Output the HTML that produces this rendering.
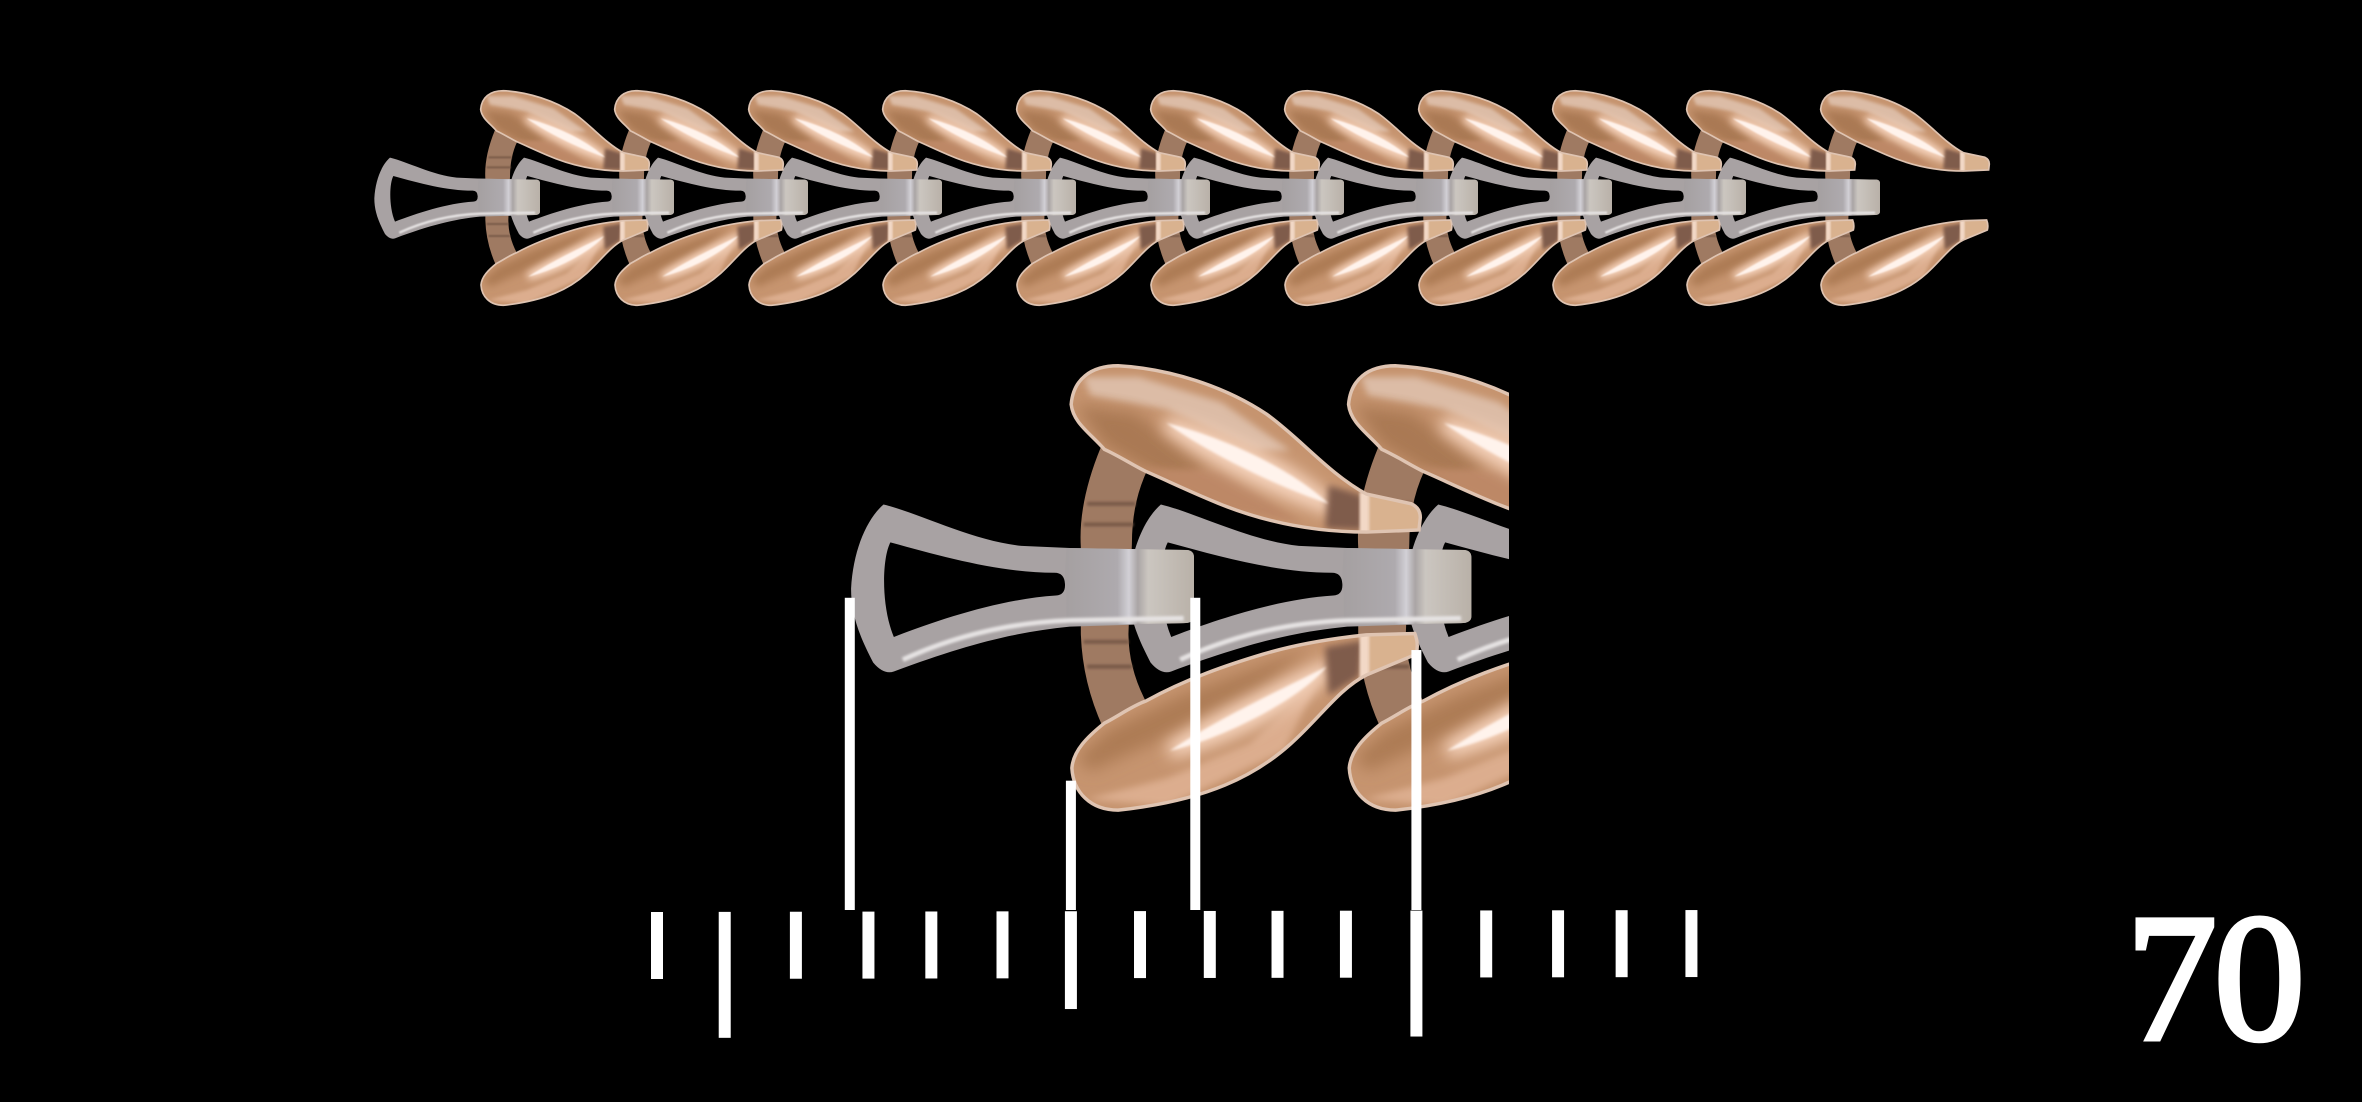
<!DOCTYPE html>
<html>
<head>
<meta charset="utf-8">
<title>Bracelet links with measurement ruler</title>
<style>
html,body{margin:0;padding:0;background:#000;width:2362px;height:1102px;overflow:hidden}
svg{display:block}
</style>
</head>
<body>
<svg id="stage" xmlns="http://www.w3.org/2000/svg" width="2362" height="1102" viewBox="0 0 2362 1102">
<defs>
<linearGradient id="barGrad" x1="415" y1="0" x2="600" y2="0" gradientUnits="userSpaceOnUse">
<stop offset="0" stop-color="#a5a0a1"/><stop offset="0.4" stop-color="#aeaaae"/><stop offset="0.49" stop-color="#d2d0d6"/><stop offset="0.56" stop-color="#aaa5a5"/><stop offset="0.64" stop-color="#cbc6c0"/><stop offset="1" stop-color="#b9b1a8"/>
</linearGradient>
<filter id="soft" x="-40%" y="-40%" width="180%" height="180%"><feGaussianBlur stdDeviation="5"/></filter>
<filter id="mid" x="-40%" y="-40%" width="180%" height="180%"><feGaussianBlur stdDeviation="11"/></filter>
<filter id="fine" x="-20%" y="-20%" width="140%" height="140%"><feGaussianBlur stdDeviation="2"/></filter>
<clipPath id="topLeafClip"><path d="M422,118 C425,82 450,62 490,62 C565,66 645,92 705,132 C755,168 795,218 850,248 L915,262 Q928,268 928,282 L926,300 L850,303 C780,303 700,290 620,255 C580,238 560,228 530,215 C510,205 490,192 470,183 C450,160 425,145 422,118Z"/></clipPath>
<clipPath id="botLeafClip"><path d="M423,645 C425,620 445,600 470,580 C490,570 510,555 530,548 C590,515 650,495 700,480 C750,465 800,457 850,452 L920,450 Q926,465 922,480 L850,510 C810,530 780,575 740,610 C690,655 620,692 490,706 C450,706 425,680 423,645Z"/></clipPath>
<clipPath id="bigClip"><rect x="700" y="340" width="809" height="500"/></clipPath>

<g id="unit">
  <!-- strut -->
  <path d="M465,180 Q432,260 436,325 L436,450 Q438,520 468,586 L530,548 Q505,500 505,450 L510,320 Q510,260 532,214 Z" fill="#9f7a62"/>
  <path d="M445,262 L515,262 M440,292 L512,292 M440,462 L505,462 M445,498 L510,498" stroke="#7a5b4a" stroke-width="6" fill="none" filter="url(#fine)"/>
  <!-- top leaf -->
  <path d="M422,118 C425,82 450,62 490,62 C565,66 645,92 705,132 C755,168 795,218 850,248 L915,262 Q928,268 928,282 L926,300 L850,303 C780,303 700,290 620,255 C580,238 560,228 530,215 C510,205 490,192 470,183 C450,160 425,145 422,118Z" fill="#c6946f"/>
  <g clip-path="url(#topLeafClip)">
    <path d="M440,78 L520,78 L640,115 L740,185 L690,185 L560,125 L450,105Z" fill="#dcbca6" filter="url(#soft)"/>
    <path d="M428,118 L515,130 L625,215 L565,232 L470,178Z" fill="#a5744f" opacity="0.85" filter="url(#mid)"/>
    <path d="M520,210 L640,215 L760,290 L640,270Z" fill="#bd8866" filter="url(#soft)"/>
    <path d="M560,145 C640,165 740,210 800,268 C730,245 630,200 560,145Z" fill="#f6d3bc" stroke="#f6d3bc" stroke-width="22" filter="url(#mid)"/>
    <path d="M795,235 L845,250 L845,300 L790,298Z" fill="#7f5b4b" filter="url(#soft)"/>
    <rect x="852" y="245" width="80" height="60" fill="#d9b28f"/>
    <rect x="840" y="245" width="14" height="60" fill="#f2d8c6" filter="url(#fine)"/>
  </g>
  <path d="M422,118 C425,82 450,62 490,62 C565,66 645,92 705,132 C755,168 795,218 850,248 L915,262 Q928,268 928,282 L926,300 L850,303 C780,303 700,290 620,255 C580,238 560,228 530,215 C510,205 490,192 470,183 C450,160 425,145 422,118Z" fill="none" stroke="#dfc4b2" stroke-width="5"/>
  <path d="M560,145 C640,165 740,210 795,262 C730,240 630,195 560,145Z" fill="#fff3ec" filter="url(#fine)"/>
  <!-- bottom leaf -->
  <path d="M423,645 C425,620 445,600 470,580 C490,570 510,555 530,548 C590,515 650,495 700,480 C750,465 800,457 850,452 L920,450 Q926,465 922,480 L850,510 C810,530 780,575 740,610 C690,655 620,692 490,706 C450,706 425,680 423,645Z" fill="#c6946f"/>
  <g clip-path="url(#botLeafClip)">
    <path d="M430,630 L475,590 L580,540 L770,470 L700,530 L560,600 L450,650Z" fill="#ad7c55" filter="url(#mid)"/>
    <path d="M445,690 L560,660 L680,610 L780,520 L730,620 L560,700Z" fill="#dcad8e" filter="url(#soft)"/>
    <path d="M565,620 C640,570 730,530 795,498 C760,545 650,600 565,620Z" fill="#f6d3bc" stroke="#f6d3bc" stroke-width="22" filter="url(#mid)"/>
    <path d="M790,470 L845,460 L840,512 L795,540Z" fill="#7f5b4b" filter="url(#soft)"/>
    <path d="M852,448 L925,448 L925,482 L852,512Z" fill="#d9b28f"/>
    <path d="M840,448 L854,448 L854,512 L840,518Z" fill="#f2d8c6" filter="url(#fine)"/>
  </g>
  <path d="M423,645 C425,620 445,600 470,580 C490,570 510,555 530,548 C590,515 650,495 700,480 C750,465 800,457 850,452 L920,450 Q926,465 922,480 L850,510 C810,530 780,575 740,610 C690,655 620,692 490,706 C450,706 425,680 423,645Z" fill="none" stroke="#dfc4b2" stroke-width="5"/>
  <path d="M565,620 C640,570 730,530 792,498 C760,540 650,600 565,620Z" fill="#fff3ec" filter="url(#fine)"/>
  <!-- silver link -->
  <path fill-rule="evenodd" d="M103,385 C106,330 125,285 150,263 C200,275 280,316 350,323 L420,326 L590,329 Q600,330 600,340 L600,425 Q600,435 585,435 L420,440 C340,448 270,466 165,505 Q150,510 135,492 C113,450 103,420 103,385Z M160,318 C148,340 146,410 165,455 C230,430 320,400 400,395 Q414,394 413,378 Q412,362 398,362 C320,362 240,340 160,318Z" fill="#a8a2a3"/>
  <path d="M415,326 L590,329 Q600,330 600,340 L600,425 Q600,435 585,435 L415,438 L415,395 Q414,380 413,362 Z" fill="url(#barGrad)"/>
  <path d="M178,488 C260,450 340,434 420,431 L585,428" stroke="#e6e3e3" stroke-width="7" fill="none" filter="url(#fine)"/>
</g>
</defs>

<rect width="2362" height="1102" fill="#000"/>

<g id="bracelet-strip" transform="translate(340,70) scale(0.33333)">
<use href="#unit" x="4020"/>
<use href="#unit" x="3618"/>
<use href="#unit" x="3216"/>
<use href="#unit" x="2814"/>
<use href="#unit" x="2412"/>
<use href="#unit" x="2010"/>
<use href="#unit" x="1608"/>
<use href="#unit" x="1206"/>
<use href="#unit" x="804"/>
<use href="#unit" x="402"/>
<use href="#unit" x="0"/>
</g>

<g clip-path="url(#bigClip)">
<g transform="translate(780,323) scale(0.69)">
<use href="#unit" x="804"/>
<use href="#unit" x="402"/>
<use href="#unit" x="0"/>
</g>
</g>

<g id="ruler"></g>
<g id="pointers"></g>

<text x="2126" y="1039" font-family="'Liberation Serif', serif" font-size="182" letter-spacing="-3" fill="#fff" stroke="#fff" stroke-width="5">70</text>
</svg>

<script>
var tickValues = [0, 0.98, 2.01, 3.06, 3.97, 5, 5.99, 6.99, 8, 8.98, 9.97, 10.99, 12, 13.04, 13.96, 14.97];
var tickLengths = [1, 1.88, 1, 1, 1, 1, 1.46, 1, 1, 1, 1, 1.88, 1, 1, 1, 1];
var pointerValues = [2.79, 5.99, 7.79, 10.99];
var pointerHeights = [4.66, 1.93, 4.66, 3.88];

function xAxis(v) { return 657 + v * 69.1; }
function rulerTop(v) { return 912 - v * 0.13; }
function lengthAxis(v) { return v * 67; }

var NS = 'http://www.w3.org/2000/svg';
var ruler = document.getElementById('ruler');
var pointers = document.getElementById('pointers');

tickValues.forEach(function (v, i) {
  var r = document.createElementNS(NS, 'rect');
  
  
  r.setAttribute('x', xAxis(v) - 6);
  r.setAttribute('y', rulerTop(v));
  r.setAttribute('width', 12);
  r.setAttribute('height', lengthAxis(tickLengths[i]));
  r.setAttribute('fill', '#fff');
  ruler.appendChild(r);
});

pointerValues.forEach(function (v, i) {
  var r = document.createElementNS(NS, 'rect');
  var h = lengthAxis(pointerHeights[i]);
  
  
  r.setAttribute('x', xAxis(v) - 5);
  r.setAttribute('y', 910 - h);
  r.setAttribute('width', 10);
  r.setAttribute('height', h);
  r.setAttribute('fill', '#fff');
  pointers.appendChild(r);
});
</script>
</body>
</html>
